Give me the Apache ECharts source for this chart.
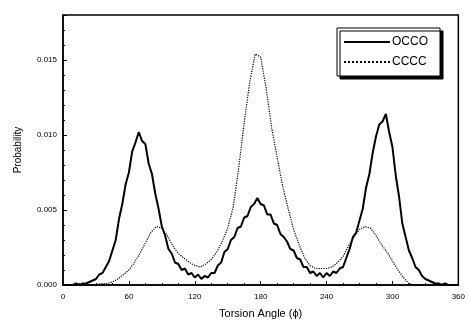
<!DOCTYPE html>
<html>
<head>
<meta charset="utf-8">
<script src="https://cdn.jsdelivr.net/npm/echarts@6/dist/echarts.min.js"></script>
<style>
  html, body { margin: 0; padding: 0; background: #fff; }
  #chart { width: 468px; height: 324px; }
</style>
</head>
<body>
<div id="chart"></div>
<script>
// torsion angle samples (deg)
const occoAngles = Array.from({ length: 121 }, (_, i) => i * 3)
const ccccAngles = Array.from({ length: 73 }, (_, i) => i * 5)

// OCCO, every 3 deg (noisy solid trace)
const occoValues = [
  0.0000, 0.0000, 0.0000, 0.0000, 0.0001, 0.0000, 0.0001, 0.0001, 0.0002, 0.0003,
  0.0004, 0.0007, 0.0008, 0.0012, 0.0016, 0.0023, 0.0030, 0.0044, 0.0054, 0.0067,
  0.0075, 0.0089, 0.0095, 0.0102, 0.0096, 0.0094, 0.0081, 0.0074, 0.0061, 0.0051,
  0.0039, 0.0033, 0.0024, 0.0021, 0.0015, 0.0014, 0.0010, 0.0011, 0.0007, 0.0008,
  0.0005, 0.0007, 0.0004, 0.0006, 0.0005, 0.0008, 0.0008, 0.0013, 0.0015, 0.0022,
  0.0024, 0.0030, 0.0032, 0.0038, 0.0039, 0.0045, 0.0046, 0.0052, 0.0054, 0.0058,
  0.0054, 0.0053, 0.0047, 0.0047, 0.0041, 0.0040, 0.0034, 0.0032, 0.0029, 0.0024,
  0.0023, 0.0018, 0.0017, 0.0012, 0.0012, 0.0008, 0.0009, 0.0006, 0.0008, 0.0005,
  0.0008, 0.0006, 0.0009, 0.0008, 0.0011, 0.0012, 0.0018, 0.0024, 0.0032, 0.0035,
  0.0043, 0.0051, 0.0065, 0.0074, 0.0088, 0.0099, 0.0107, 0.0109, 0.0114, 0.0102,
  0.0092, 0.0073, 0.0059, 0.0041, 0.0032, 0.0023, 0.0018, 0.0012, 0.0010, 0.0006,
  0.0004, 0.0003, 0.0002, 0.0001, 0.0001, 0.0000, 0.0001, 0.0000, 0.0000, 0.0000,
  0.0000
]

// CCCC, read every 5 deg (dotted trace)
const ccccValues = [
  0.0000, 0.0000, 0.0000, 0.0000, 0.0000, 0.0000, 0.0000, 0.0001, 0.0001, 0.0002,
  0.0004, 0.0007, 0.0010, 0.0015, 0.0021, 0.0028, 0.0035, 0.0039, 0.0038, 0.0033,
  0.0026, 0.0021, 0.0018, 0.0015, 0.0013, 0.0012, 0.0014, 0.0017, 0.0022, 0.0029,
  0.0038, 0.0052, 0.0078, 0.0108, 0.0135, 0.0154, 0.0152, 0.0131, 0.0105, 0.0085,
  0.0066, 0.0051, 0.0037, 0.0027, 0.0018, 0.0013, 0.0011, 0.0011, 0.0011, 0.0012,
  0.0015, 0.0019, 0.0026, 0.0032, 0.0037, 0.0039, 0.0038, 0.0033, 0.0027, 0.0022,
  0.0016, 0.0010, 0.0005, 0.0001, 0.0000, 0.0000, 0.0000, 0.0000, 0.0000, 0.0000,
  0.0000, 0.0000, 0.0000
]

const xTicks = [0, 60, 120, 180, 240, 300, 360]
const yTicks = [0, 0.005, 0.010, 0.015]

const chart = echarts.init(document.getElementById('chart'))

const font = 'Liberation Sans, Arial, sans-serif'

chart.setOption({
  animation: false,
  backgroundColor: '#fff',
  grid: {
    left: 63,
    right: 6,
    top: 15,
    bottom: 39,
    show: true,
    borderColor: '#000',
    borderWidth: 1.5
  },
  legend: {
    left: 337,
    top: 28,
    orient: 'vertical',
    itemWidth: 46,
    itemHeight: 10,
    itemGap: 8,
    padding: [8, 12, 8, 6],
    backgroundColor: '#fff',
    borderColor: '#000',
    borderWidth: 1,
    shadowColor: '#000',
    shadowOffsetX: 3,
    shadowOffsetY: 3,
    shadowBlur: 0,
    itemStyle: { opacity: 0 },
    textStyle: { fontFamily: font, fontSize: 12, color: '#000', padding: [0, 0, 0, -3] },
    data: ['OCCO', 'CCCC']
  },
  xAxis: {
    type: 'value',
    min: 0,
    max: 360,
    interval: 60,
    name: 'Torsion Angle (\u03d5)',
    nameLocation: 'middle',
    nameGap: 23,
    nameTextStyle: { fontFamily: font, fontSize: 11, color: '#000' },
    axisLine: { lineStyle: { color: '#000', width: 1.5 } },
    axisTick: { inside: true, length: 4, lineStyle: { color: '#000' } },
    minorTick: { show: true, splitNumber: 4, length: 2, lineStyle: { color: '#000' } },
    axisLabel: {
      fontFamily: font, fontSize: 8, color: '#000', margin: 8,
      customValues: xTicks
    },
    splitLine: { show: false }
  },
  yAxis: {
    type: 'value',
    min: 0,
    max: 0.018,
    interval: 0.005,
    name: 'Probability',
    nameLocation: 'middle',
    nameGap: 40,
    nameTextStyle: { fontFamily: font, fontSize: 10, color: '#000' },
    axisLine: { lineStyle: { color: '#000', width: 1.5 } },
    axisTick: { inside: true, length: 4, lineStyle: { color: '#000' } },
    minorTick: { show: true, splitNumber: 5, length: 2, lineStyle: { color: '#000' } },
    axisLabel: {
      fontFamily: font, fontSize: 8, color: '#000', margin: 6,
      formatter: v => (yTicks.some(t => Math.abs(t - v) < 1e-9) ? v.toFixed(3) : '')
    },
    splitLine: { show: false }
  },
  series: [
    {
      name: 'OCCO',
      type: 'line',
      symbol: 'none',
      data: occoAngles.map((a, i) => [a, occoValues[i]]),
      lineStyle: { color: '#000', width: 2 },
      itemStyle: { color: '#000' }
    },
    {
      name: 'CCCC',
      type: 'line',
      symbol: 'none',
      data: ccccAngles.map((a, i) => [a, ccccValues[i]]),
      lineStyle: { color: '#000', width: 1.2, type: 'dotted' },
      itemStyle: { color: '#000' }
    }
  ]
})
</script>
</body>
</html>
